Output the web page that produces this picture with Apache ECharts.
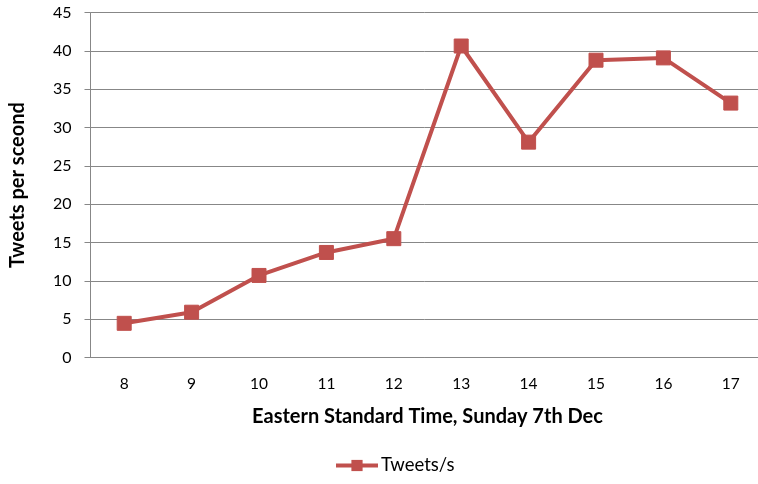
<!DOCTYPE html>
<html>
<head>
<meta charset="utf-8">
<script src="https://cdn.jsdelivr.net/npm/echarts@6/dist/echarts.min.js"></script>
<style>
  html, body { margin: 0; padding: 0; background: #fff; }
  #chart { width: 758px; height: 484px; }
</style>
</head>
<body>
<div id="chart"></div>
<script>
// Hourly tweet rate, Sunday 7th Dec (EST)
const hours = ['8', '9', '10', '11', '12', '13', '14', '15', '16', '17'];
const tweetsPerSecond = [4.45, 5.9, 10.7, 13.7, 15.5, 40.65, 28.1, 38.8, 39.1, 33.2];
const seriesName = 'Tweets/s';
const xTitle = 'Eastern Standard Time, Sunday 7th Dec';
const yTitle = 'Tweets per sceond';

const FONT = 'Lato, "Open Sans", sans-serif';
const RED = '#C0504D';
const GRID = '#878787';

const chart = echarts.init(document.getElementById('chart'), null, { renderer: 'canvas' });
chart.setOption({
  animation: false,
  textStyle: { fontFamily: FONT },
  // plot area runs slightly past the right edge of the canvas
  grid: {
    left: 90.5, width: 674, top: 12.7, height: 344.7,
    containLabel: false,
    outerBoundsMode: 'none'
  },
  xAxis: {
    type: 'category',
    data: hours,
    boundaryGap: true,
    name: xTitle,
    nameLocation: 'middle',
    nameGap: 49,
    nameTextStyle: { fontFamily: FONT, fontSize: 20, fontWeight: 'bold', color: '#000' },
    axisLine: { lineStyle: { color: GRID, width: 1 } },
    axisTick: { show: false },
    axisLabel: { color: '#000', fontSize: 15.5, margin: 19, fontFamily: FONT }
  },
  yAxis: {
    type: 'value',
    min: 0,
    max: 45,
    interval: 5,
    name: yTitle,
    nameLocation: 'middle',
    nameGap: 63,
    nameRotate: 90,
    nameTextStyle: { fontFamily: FONT, fontSize: 20, fontWeight: 'bold', color: '#000' },
    axisLine: { show: true, lineStyle: { color: GRID, width: 1 } },
    axisTick: { show: true, length: 6, lineStyle: { color: GRID } },
    axisLabel: { color: '#000', fontSize: 16, margin: 19, fontFamily: FONT },
    splitLine: { show: true, lineStyle: { color: GRID, width: 1 } }
  },
  legend: {
    data: [seriesName],
    bottom: 9,
    left: 334,
    padding: 0,
    itemWidth: 42,
    itemHeight: 14,
    itemGap: 4,
    lineStyle: { width: 4 },
    textStyle: { color: '#000', fontSize: 18.5, fontFamily: FONT, padding: [0, 0, 0, -2] }
  },
  series: [{
    name: seriesName,
    type: 'line',
    data: tweetsPerSecond,
    symbol: 'rect',
    symbolSize: 14,
    lineStyle: { color: RED, width: 4 },
    itemStyle: { color: RED, borderColor: RED },
    emphasis: { disabled: true }
  }]
});
</script>
</body>
</html>
